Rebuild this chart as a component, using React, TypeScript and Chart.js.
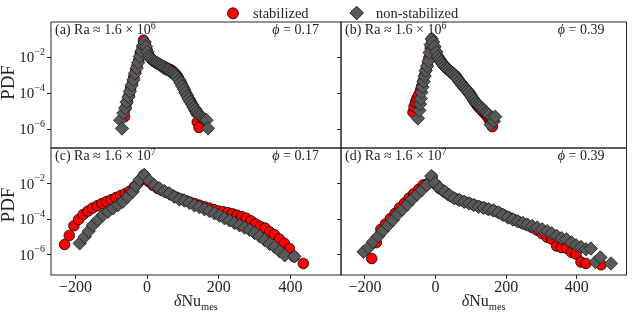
import React, { useEffect, useRef } from 'react';
import { Chart, registerables } from 'chart.js';

Chart.register(...registerables);

const W = 634;
const H = 315;
const FONT = '"Liberation Serif", "DejaVu Serif", serif';
const INK = '#222222';
const RED = '#ff0000';
const GREY = '#595959';
const X_AXIS_H = 24;

// shared axis settings
const X_MIN = -268;
const X_MAX = 541;
const X_TICKS = [-200, 0, 200, 400];
const Y_TICKS = [1e-2, 1e-4, 1e-6];
const Y_TICK_EXP = ['\u22122', '\u22124', '\u22126'];

// (a) Ra ~ 1.6e6, phi = 0.17
const aStab: [number, number][] = [
  [-63, 5.0e-6], [-59, 1.6e-5], [-55, 3.5e-5], [-50, 7.9e-5], [-46, 1.8e-4], [-41, 3.5e-4], [-37, 7.9e-4],
  [-32, 1.6e-3], [-28, 3.2e-3], [-23, 7.1e-3], [-19, 1.6e-2], [-14, 3.5e-2], [-10, 8.9e-2], [-5, 5.6e-2],
  [0, 2.5e-2], [4, 1.4e-2], [9, 9.5e-3], [13, 7.6e-3], [18, 6.3e-3], [22, 5.5e-3], [27, 5.0e-3], [31, 4.4e-3],
  [36, 4.0e-3], [40, 3.5e-3], [45, 3.2e-3], [50, 2.8e-3], [54, 2.5e-3], [59, 2.3e-3], [63, 2.1e-3], [68, 1.9e-3],
  [72, 1.6e-3], [77, 1.3e-3], [81, 1.05e-3], [86, 7.9e-4], [90, 5.6e-4], [95, 3.8e-4], [99, 2.5e-4], [104, 1.6e-4],
  [108, 1.05e-4], [113, 7.1e-5], [117, 4.8e-5], [122, 3.2e-5], [127, 2.1e-5], [131, 1.4e-5], [136, 8.9e-6],
  [140, 2.5e-6], [145, 1.26e-6],
];
const aNon: [number, number][] = [
  [-75, 3.2e-6], [-70, 1.1e-6], [-66, 7.9e-6], [-61, 1.5e-5], [-57, 3.2e-5], [-52, 6.3e-5], [-48, 1.26e-4],
  [-43, 2.8e-4], [-38, 5.6e-4], [-34, 1.26e-3], [-29, 2.5e-3], [-25, 5.0e-3], [-20, 1.12e-2], [-15, 2.2e-2],
  [-11, 4.5e-2], [-7, 7.1e-2], [-3, 4.0e-2], [1, 2.0e-2], [6, 1.17e-2], [10, 8.9e-3], [15, 7.1e-3], [20, 6.0e-3],
  [24, 5.2e-3], [29, 4.7e-3], [34, 4.0e-3], [38, 3.5e-3], [43, 3.0e-3], [47, 2.6e-3], [52, 2.3e-3], [57, 2.1e-3],
  [61, 1.9e-3], [66, 1.6e-3], [70, 1.35e-3], [75, 1.17e-3], [80, 1.0e-3], [84, 7.9e-4], [89, 5.6e-4], [93, 3.8e-4],
  [98, 2.5e-4], [103, 1.66e-4], [107, 1.07e-4], [112, 7.1e-5], [116, 4.8e-5], [121, 3.3e-5], [126, 2.3e-5],
  [130, 1.66e-5], [135, 1.26e-5], [139, 8.9e-6], [144, 7.1e-6], [148, 5.6e-6], [153, 4.5e-6], [157, 3.8e-6],
  [162, 3.4e-6], [166, 3.2e-6], [170, 1.12e-6],
];

// (b) Ra ~ 1.6e6, phi = 0.39
const bStab: [number, number][] = [
  [-64, 8.9e-6], [-61, 1.8e-5], [-57, 3.2e-5], [-53, 5.0e-5], [-48, 7.9e-5], [-43, 1.4e-4], [-39, 2.5e-4],
  [-35, 5.0e-4], [-31, 1.0e-3], [-27, 2.0e-3], [-23, 4.0e-3], [-19, 8.9e-3], [-15, 3.2e-2], [-11, 1.0e-1],
  [-6, 5.0e-2], [-2, 2.8e-2], [3, 1.6e-2], [7, 1.0e-2], [12, 7.1e-3], [17, 5.2e-3], [21, 4.0e-3], [26, 3.2e-3],
  [31, 2.5e-3], [35, 2.1e-3], [40, 1.74e-3], [45, 1.45e-3], [49, 1.2e-3], [54, 1.0e-3], [59, 7.9e-4], [63, 6.0e-4],
  [68, 4.5e-4], [73, 3.4e-4], [77, 2.6e-4], [82, 2.1e-4], [87, 1.6e-4], [91, 1.26e-4], [96, 9.5e-5], [101, 7.1e-5],
  [105, 5.0e-5], [110, 3.5e-5], [115, 2.6e-5], [119, 2.0e-5], [124, 1.6e-5], [129, 1.26e-5], [133, 1.0e-5],
  [138, 7.9e-6], [143, 6.3e-6], [147, 5.0e-6], [152, 3.5e-6], [157, 2.5e-6], [161, 1.4e-6],
];
const bNon: [number, number][] = [
  [-50, 4.0e-6], [-46, 1.12e-5], [-44, 2.5e-5], [-42, 5.0e-5], [-40, 1.12e-4], [-37, 2.2e-4], [-34, 4.5e-4],
  [-31, 8.9e-4], [-28, 1.8e-3], [-24, 3.2e-3], [-20, 6.3e-3], [-17, 1.8e-2], [-14, 5.0e-2], [-11, 1.05e-1],
  [-7, 7.1e-2], [-3, 3.9e-2], [2, 2.0e-2], [6, 1.12e-2], [11, 7.9e-3], [16, 5.6e-3], [20, 4.2e-3], [25, 3.3e-3],
  [30, 2.6e-3], [34, 2.2e-3], [39, 1.8e-3], [44, 1.5e-3], [48, 1.26e-3], [53, 1.07e-3], [58, 8.3e-4], [62, 6.3e-4],
  [67, 4.8e-4], [72, 3.7e-4], [76, 2.8e-4], [81, 2.2e-4], [86, 1.8e-4], [90, 1.4e-4], [95, 1.12e-4], [100, 7.9e-5],
  [104, 5.6e-5], [109, 4.2e-5], [114, 3.2e-5], [118, 2.5e-5], [123, 2.1e-5], [128, 1.74e-5], [132, 1.4e-5],
  [137, 1.12e-5], [142, 8.9e-6], [146, 7.6e-6], [151, 6.0e-6], [156, 1.8e-6], [160, 4.5e-6], [165, 2.8e-6],
  [169, 5.0e-6],
];

// (c) Ra ~ 1.6e7, phi = 0.17
const cStab: [number, number][] = [
  [-230, 3.9e-6], [-217, 1.26e-5], [-204, 4.4e-5], [-191, 1.0e-4], [-178, 1.9e-4], [-165, 3.0e-4], [-152, 4.4e-4],
  [-139, 5.9e-4], [-126, 7.9e-4], [-113, 1.02e-3], [-100, 1.3e-3], [-87, 1.7e-3], [-74, 2.2e-3], [-61, 2.8e-3],
  [-48, 4.0e-3], [-35, 7.1e-3], [-22, 1.4e-2], [-9, 3.2e-2], [4, 1.4e-2], [17, 8.3e-3], [30, 5.6e-3], [43, 4.2e-3],
  [56, 3.2e-3], [69, 2.4e-3], [82, 1.8e-3], [95, 1.4e-3], [108, 1.15e-3], [121, 9.3e-4], [134, 7.6e-4],
  [147, 6.3e-4], [160, 5.2e-4], [173, 4.4e-4], [186, 3.6e-4], [199, 3.0e-4], [212, 2.75e-4], [225, 2.4e-4],
  [238, 2.1e-4], [251, 1.74e-4], [264, 1.45e-4], [277, 1.17e-4], [290, 8.3e-5], [303, 5.6e-5], [316, 4.0e-5],
  [329, 3.3e-5], [342, 2.0e-5], [355, 1.4e-5], [369, 7.9e-6], [383, 4.5e-6], [397, 2.3e-6], [410, 7.9e-7],
  [436, 3.3e-7],
];
const cNon: [number, number][] = [
  [-188, 4.5e-6], [-174, 1.05e-5], [-163, 2.2e-5], [-151, 4.8e-5], [-137, 9.3e-5], [-123, 1.8e-4], [-109, 2.75e-4],
  [-95, 4.3e-4], [-81, 6.5e-4], [-68, 1.0e-3], [-54, 1.9e-3], [-40, 3.7e-3], [-31, 7.8e-3], [-21, 1.7e-2],
  [-8, 3.2e-2], [6, 1.55e-2], [20, 8.7e-3], [34, 5.75e-3], [48, 4.0e-3], [62, 2.95e-3], [76, 1.9e-3], [90, 1.35e-3],
  [104, 1.15e-3], [118, 8.7e-4], [132, 6.3e-4], [146, 5.0e-4], [160, 3.8e-4], [174, 3.0e-4], [188, 2.2e-4],
  [202, 1.66e-4], [216, 1.17e-4], [230, 8.9e-5], [244, 6.3e-5], [258, 4.7e-5], [272, 3.5e-5], [286, 2.6e-5],
  [300, 1.74e-5], [314, 1.12e-5], [328, 6.9e-6], [342, 4.2e-6], [356, 2.8e-6], [370, 1.6e-6], [384, 9.5e-7],
  [411, 8.3e-7],
];

// (d) Ra ~ 1.6e7, phi = 0.39
const dStab: [number, number][] = [
  [-181, 6.3e-7], [-168, 5.0e-6], [-155, 2.8e-5], [-142, 5.6e-5], [-128, 1.12e-4], [-115, 2.2e-4], [-102, 4.5e-4],
  [-88, 8.3e-4], [-75, 1.6e-3], [-62, 2.8e-3], [-48, 5.0e-3], [-35, 8.9e-3], [-22, 1.05e-2], [-10, 2.5e-2],
  [2, 8.9e-3], [12, 5.5e-3], [26, 3.5e-3], [39, 2.3e-3], [53, 1.6e-3], [67, 1.26e-3], [81, 1.02e-3], [95, 8.3e-4],
  [108, 6.8e-4], [122, 5.6e-4], [136, 4.7e-4], [150, 3.8e-4], [164, 3.2e-4], [178, 2.5e-4], [191, 1.9e-4],
  [205, 1.4e-4], [219, 1.05e-4], [233, 7.9e-5], [247, 6.0e-5], [260, 4.7e-5], [274, 3.5e-5], [288, 2.5e-5],
  [302, 1.6e-5], [316, 1.0e-5], [329, 7.9e-6], [343, 3.2e-6], [357, 2.6e-6], [371, 2.4e-6], [385, 1.4e-6],
  [398, 1.12e-6], [412, 4.0e-7], [426, 3.3e-7], [469, 2.8e-7],
];
const dNon: [number, number][] = [
  [-204, 1.5e-6], [-190, 2.6e-6], [-177, 5.5e-6], [-163, 1.15e-5], [-149, 2.3e-5], [-135, 4.7e-5], [-121, 9.3e-5],
  [-108, 1.95e-4], [-94, 3.7e-4], [-80, 7.1e-4], [-66, 1.4e-3], [-52, 2.6e-3], [-39, 4.6e-3], [-25, 8.7e-3],
  [-12, 2.8e-2], [-2, 1.1e-2], [12, 5.75e-3], [26, 3.7e-3], [39, 2.4e-3], [53, 1.55e-3], [67, 1.26e-3], [81, 1.0e-3],
  [95, 8.1e-4], [108, 6.5e-4], [122, 5.2e-4], [136, 4.5e-4], [150, 3.8e-4], [164, 3.2e-4], [178, 2.5e-4],
  [191, 1.8e-4], [205, 1.3e-4], [219, 1.0e-4], [233, 7.9e-5], [247, 6.3e-5], [260, 5.2e-5], [274, 4.3e-5],
  [288, 3.5e-5], [302, 2.8e-5], [316, 2.2e-5], [329, 1.66e-5], [343, 1.2e-5], [357, 8.9e-6], [371, 7.6e-6],
  [385, 5.0e-6], [398, 3.5e-6], [412, 2.8e-6], [426, 2.1e-6], [440, 2.3e-6], [453, 4.0e-7], [467, 7.2e-7],
  [497, 3.3e-7],
];

type Panel = {
  tag: string;
  raExp: string;
  phi: string;
  left: number;
  right: number;
  top: number;
  bottom: number;
  yMin: number;
  yMax: number;
  yLabels: boolean;
  xLabels: boolean;
  pdfY: number;
  legend: boolean;
  stab: [number, number][];
  non: [number, number][];
};

const PANELS: Panel[] = [
  { tag: 'a', raExp: '6', phi: '0.17', left: 51, right: 341, top: 22, bottom: 148, yMin: 9.1e-8, yMax: 0.91, yLabels: true, xLabels: false, pdfY: 82.5, legend: true, stab: aStab, non: aNon },
  { tag: 'b', raExp: '6', phi: '0.39', left: 341, right: 631, top: 22, bottom: 148, yMin: 9.1e-8, yMax: 0.91, yLabels: false, xLabels: false, pdfY: 0, legend: false, stab: bStab, non: bNon },
  { tag: 'c', raExp: '7', phi: '0.17', left: 51, right: 341, top: 148, bottom: 275, yMin: 7.4e-8, yMax: 1.07, yLabels: true, xLabels: true, pdfY: 205, legend: false, stab: cStab, non: cNon },
  { tag: 'd', raExp: '7', phi: '0.39', left: 341, right: 631, top: 148, bottom: 275, yMin: 7.4e-8, yMax: 1.07, yLabels: false, xLabels: true, pdfY: 0, legend: false, stab: dStab, non: dNon },
];

type Part = { text: string; size: number; dy?: number; italic?: boolean };

function drawRich(ctx: CanvasRenderingContext2D, parts: Part[], x: number, y: number, align: 'left' | 'right' | 'center') {
  ctx.textAlign = 'left';
  ctx.textBaseline = 'alphabetic';
  const widths = parts.map((p) => {
    ctx.font = `${p.italic ? 'italic ' : ''}${p.size}px ${FONT}`;
    return ctx.measureText(p.text).width;
  });
  const total = widths.reduce((s, w) => s + w, 0);
  let cx = align === 'right' ? x - total : align === 'center' ? x - total / 2 : x;
  parts.forEach((p, i) => {
    ctx.font = `${p.italic ? 'italic ' : ''}${p.size}px ${FONT}`;
    ctx.fillText(p.text, cx, y + (p.dy || 0));
    cx += widths[i];
  });
}

function panelPlugin(p: Panel) {
  return {
    id: 'panelDecor' + p.tag,
    afterDraw(chart: any) {
      const ctx: CanvasRenderingContext2D = chart.ctx;
      const a = chart.chartArea;
      ctx.save();
      // frame
      ctx.strokeStyle = '#262626';
      ctx.lineWidth = 1;
      ctx.strokeRect(a.left, a.top, a.right - a.left, a.bottom - a.top);
      ctx.fillStyle = INK;
      // annotations
      drawRich(ctx, [
        { text: `(${p.tag}) Ra \u2248 1.6 \u00d7 10`, size: 14 },
        { text: p.raExp, size: 10, dy: -5.5 },
      ], a.left + 4, a.top + 12, 'left');
      drawRich(ctx, [
        { text: '\u03d5', size: 14, italic: true },
        { text: ' = ' + p.phi, size: 14 },
      ], a.right - 22, a.top + 12, 'right');
      if (p.yLabels) {
        const ys = chart.scales.y;
        Y_TICKS.forEach((v, i) => {
          const py = ys.getPixelForValue(v);
          drawRich(ctx, [
            { text: '10', size: 15, dy: 5 },
            { text: Y_TICK_EXP[i], size: 10, dy: -2.5 },
          ], a.left - 6, py, 'right');
        });
        ctx.save();
        ctx.translate(9.5, p.pdfY);
        ctx.rotate(-Math.PI / 2);
        ctx.font = `19px ${FONT}`;
        ctx.textAlign = 'center';
        ctx.textBaseline = 'middle';
        ctx.fillText('PDF', 0, 0);
        ctx.restore();
      }
      if (p.xLabels) {
        drawRich(ctx, [
          { text: '\u03b4', size: 16, italic: true },
          { text: 'Nu', size: 16 },
          { text: 'mes', size: 10.5, dy: 4 },
        ], (a.left + a.right) / 2, 306, 'center');
      }
      if (p.legend) {
        ctx.lineWidth = 0.8;
        ctx.strokeStyle = '#000';
        ctx.beginPath();
        ctx.arc(233, 13.3, 5.5, 0, Math.PI * 2);
        ctx.fillStyle = RED;
        ctx.fill();
        ctx.stroke();
        const cx = 356.7, cy = 13, r = 6.8;
        ctx.beginPath();
        ctx.moveTo(cx - r, cy);
        ctx.lineTo(cx, cy - r);
        ctx.lineTo(cx + r, cy);
        ctx.lineTo(cx, cy + r);
        ctx.closePath();
        ctx.fillStyle = GREY;
        ctx.fill();
        ctx.stroke();
        ctx.fillStyle = INK;
        drawRich(ctx, [{ text: 'stabilized', size: 14.5 }], 253, 17.5, 'left');
        drawRich(ctx, [{ text: 'non-stabilized', size: 14.5 }], 376, 17.5, 'left');
      }
      ctx.restore();
    },
  };
}

function fmtX(v: number) {
  return v < 0 ? '\u2212' + Math.abs(v) : String(v);
}

function PanelChart({ p }: { p: Panel }) {
  const ref = useRef<HTMLCanvasElement>(null);
  useEffect(() => {
    const canvas = ref.current;
    if (!canvas) return;
    const xH = p.xLabels ? X_AXIS_H : 0;
    const chart = new Chart(canvas, {
      type: 'scatter',
      data: {
        datasets: [
          {
            label: 'stabilized',
            data: p.stab.map(([x, y]) => ({ x, y })),
            pointStyle: 'circle',
            pointRadius: 5.3,
            pointBackgroundColor: RED,
            pointBorderColor: '#000',
            pointBorderWidth: 0.8,
            showLine: false,
            order: 1,
          },
          {
            label: 'non-stabilized',
            data: p.non.map(([x, y]) => ({ x, y })),
            pointStyle: 'rectRot',
            pointRadius: 6.7,
            pointBackgroundColor: GREY,
            pointBorderColor: '#1a1a1a',
            pointBorderWidth: 0.8,
            showLine: false,
            order: 0,
          },
        ],
      },
      options: {
        animation: false,
        responsive: false,
        devicePixelRatio: 1,
        events: [],
        layout: { padding: { left: p.left, top: p.top, right: W - p.right, bottom: H - p.bottom - xH } },
        plugins: { legend: { display: false }, tooltip: { enabled: false } },
        scales: {
          x: {
            type: 'linear',
            min: X_MIN,
            max: X_MAX,
            bounds: 'data',
            display: p.xLabels,
            afterFit: (s: any) => { s.height = xH; },
            afterBuildTicks: (s: any) => { s.ticks = X_TICKS.map((v) => ({ value: v })); },
            grid: { drawOnChartArea: false, drawTicks: true, tickLength: 4, tickColor: INK, tickWidth: 1 },
            border: { display: false },
            ticks: {
              font: { family: FONT, size: 16, lineHeight: 1 },
              color: INK,
              padding: 1,
              maxRotation: 0,
              autoSkip: false,
              callback: (v: any) => fmtX(Number(v)),
            },
          },
          y: {
            type: 'logarithmic',
            min: p.yMin,
            max: p.yMax,
            bounds: 'data',
            display: true,
            afterFit: (s: any) => { s.width = 0; },
            afterBuildTicks: (s: any) => { s.ticks = Y_TICKS.map((v) => ({ value: v })); },
            grid: { drawOnChartArea: false, drawTicks: true, tickLength: 4, tickColor: INK, tickWidth: 1 },
            border: { display: false },
            ticks: { display: false },
          },
        },
      } as any,
      plugins: [panelPlugin(p)],
    });
    return () => chart.destroy();
  }, [p]);
  return (
    <canvas
      ref={ref}
      width={W}
      height={H}
      style={{ position: 'absolute', left: 0, top: 0, width: W, height: H }}
    />
  );
}

export default function App() {
  return (
    <div style={{ position: 'absolute', left: 0, top: 0, width: W, height: H, background: '#ffffff', overflow: 'hidden' }}>
      {PANELS.map((p) => (
        <PanelChart key={p.tag} p={p} />
      ))}
    </div>
  );
}
